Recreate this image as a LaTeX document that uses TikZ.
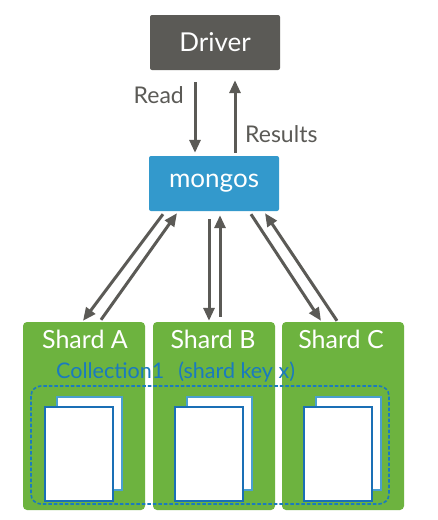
\documentclass[tikz,border=0pt]{standalone}
\usepackage{fontspec}
\setmainfont{Lato}
\usetikzlibrary{arrows.meta,calc}
\definecolor{drivergray}{HTML}{5B5A56}
\definecolor{mongoblue}{HTML}{3399CC}
\definecolor{shardgreen}{HTML}{6DB33F}
\definecolor{collblue}{HTML}{1A7ABF}
\definecolor{pageback}{HTML}{4A9FD0}
\definecolor{pagefront}{HTML}{1A6FB5}
\begin{document}
\begin{tikzpicture}[x=1pt,y=-1pt,
  topbox/.style={rectangle,rounded corners=2pt,minimum width=130pt,minimum height=55pt,text=white,font=\fontsize{26}{28}\selectfont,inner sep=0pt},
  shardbox/.style={rectangle,rounded corners=4pt,fill=shardgreen,minimum width=122pt,minimum height=188pt,inner sep=0pt},
  shardlabel/.style={text=white,font=\fontsize{25}{28}\selectfont,inner sep=0pt},
  arr/.style={draw=drivergray,line width=3pt,-{Triangle[length=13pt,width=11pt]}},
  lbl/.style={text=drivergray,font=\fontsize{23}{26}\selectfont,inner sep=0pt},
  pgb/.style={draw=pageback,fill=white,line width=1.5pt},
  pgf/.style={draw=pagefront,fill=white,line width=1.5pt}]
\useasboundingbox (0,0) rectangle (438,520);
\fill[white] (0,0) rectangle (438,520);
% top boxes
\node[topbox,fill=drivergray] (driver) at (215,42.5) {Driver};
\node[topbox,fill=mongoblue] (mongos) at (214,183.5) {mongos};
% shards
\node[shardbox] (shardA) at (84,416) {};
\node[shardbox] (shardB) at (214,416) {};
\node[shardbox] (shardC) at (343,416) {};
\node[shardlabel] (labA) at (85,339) {Shard A};
\node[shardlabel] (labB) at (213,339) {Shard B};
\node[shardlabel] (labC) at (341,339) {Shard C};
% collection
\draw[collblue,line width=1.6pt,dash pattern=on 3.5pt off 2pt,rounded corners=10pt] (31,386) rectangle (389,504);
\node[anchor=west,text=collblue,font=\fontsize{21.5}{24}\selectfont,inner sep=0pt] (coll) at (56,372) {Collection1\hspace{0.4em} (shard key x)};
% pages
\foreach \s/\x in {A/23,B/153,C/282}{
  \draw[pgb] (\x+34,397) rectangle (\x+99,490);
  \draw[pgf] (\x+22,407) rectangle (\x+90,501);
}
% driver <-> mongos
\draw[arr] ([xshift=-20pt,yshift=-12pt]driver.south) -- ([xshift=-19pt,yshift=3pt]mongos.north);
\draw[arr] ([xshift=21pt,yshift=3pt]mongos.north) -- ([xshift=20pt,yshift=-10pt]driver.south);
\node[lbl,anchor=east] (read) at (184,95) {Read};
\node[lbl,anchor=west] (results) at (245,134) {Results};
% mongos <-> shards
\draw[arr] ([xshift=-51pt,yshift=-3pt]mongos.south) -- ([xshift=-1pt,yshift=1pt]shardA.north);
\draw[arr] ([xshift=17pt,yshift=2pt]shardA.north) -- ([xshift=-37pt,yshift=-2pt]mongos.south);
\draw[arr] ([xshift=-5pt,yshift=-8pt]mongos.south) -- ([xshift=-5pt,yshift=1pt]shardB.north);
\draw[arr] ([xshift=6pt,yshift=5pt]shardB.north) -- ([xshift=6pt,yshift=-4pt]mongos.south);
\draw[arr] ([xshift=37pt,yshift=-3pt]mongos.south) -- ([xshift=-22pt,yshift=1pt]shardC.north);
\draw[arr] ([xshift=-6pt,yshift=1pt]shardC.north) -- ([xshift=51pt,yshift=-2pt]mongos.south);
\end{tikzpicture}
\end{document}
